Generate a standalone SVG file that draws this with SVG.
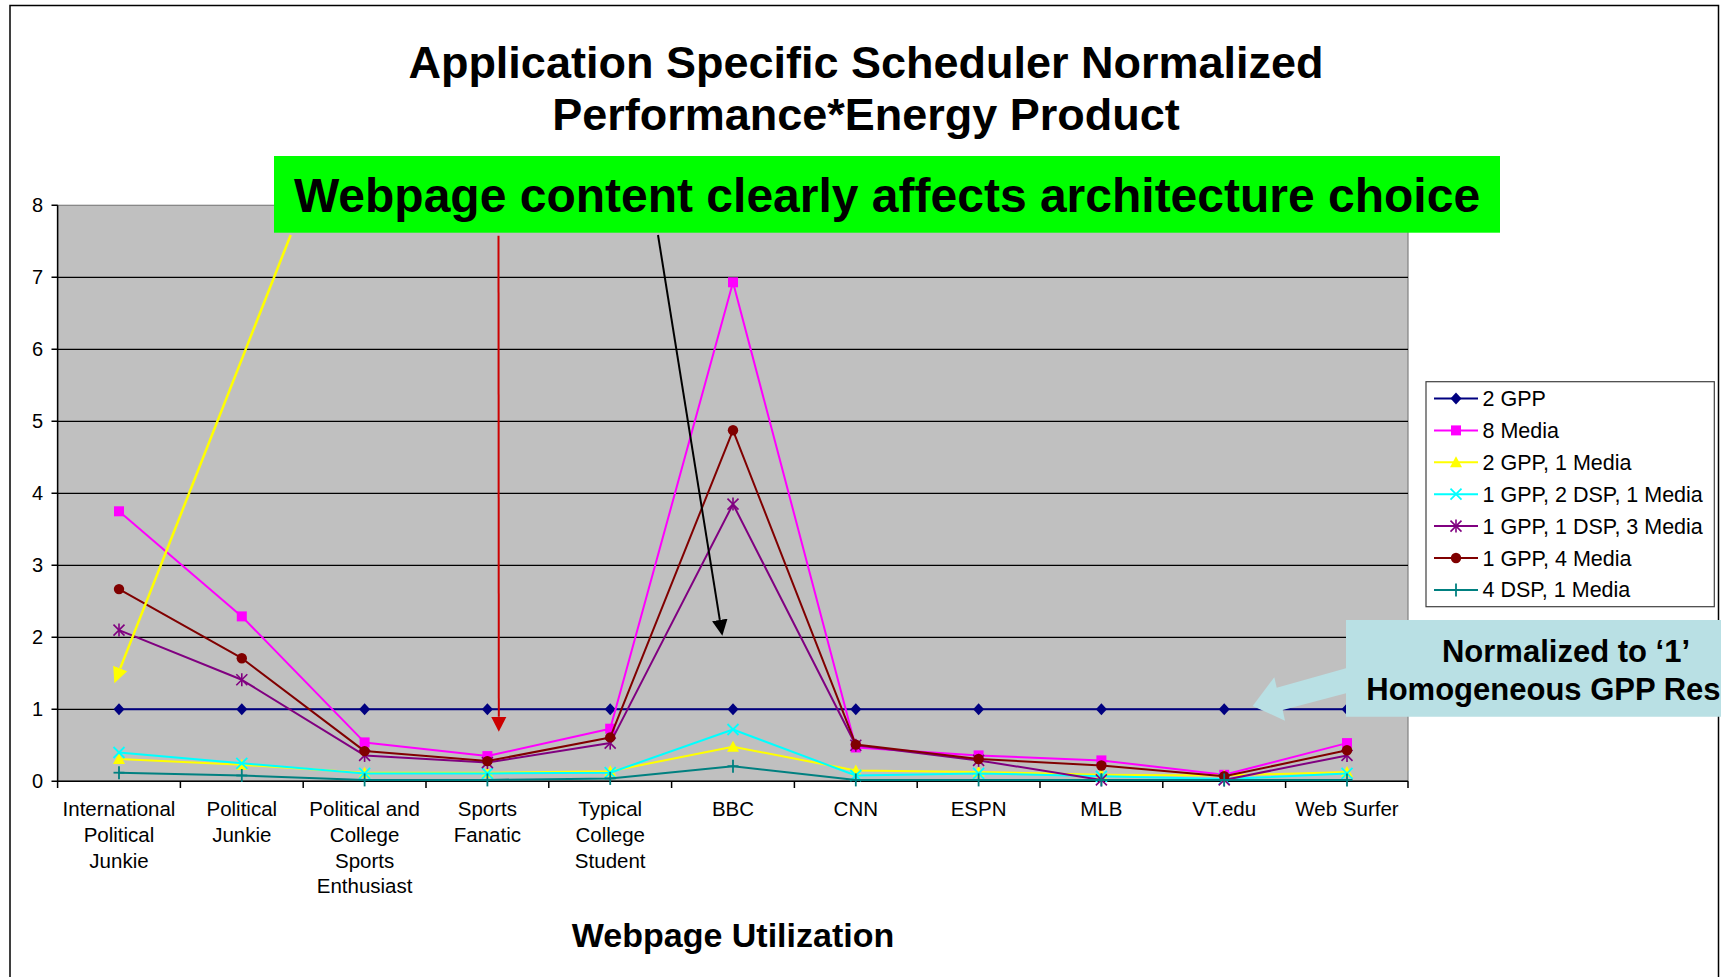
<svg xmlns="http://www.w3.org/2000/svg" xmlns:xlink="http://www.w3.org/1999/xlink" width="1721" height="977" viewBox="0 0 1721 977">
  <style>
    text { font-family: "Liberation Sans", Arial, sans-serif; fill: #000; }
    .title { font-size: 45px; font-weight: bold; text-anchor: middle; }
    .banner { font-size: 48px; font-weight: bold; text-anchor: middle; }
    .axis-title { font-size: 34px; font-weight: bold; text-anchor: middle; }
    .ylab { font-size: 20px; text-anchor: end; }
    .xlab { font-size: 20.5px; text-anchor: middle; }
    .leg { font-size: 21.5px; }
    .note { font-size: 31px; font-weight: bold; text-anchor: middle; }
    .grid { stroke: #000; stroke-width: 1.2; }
    .axis { stroke: #000; stroke-width: 1.5; fill: none; }
    .series { fill: none; stroke-width: 2; stroke-linejoin: round; }
    .s-gpp { stroke: #000080; }
    .s-media8 { stroke: #FF00FF; }
    .s-gpp2m1 { stroke: #FFFF00; }
    .s-g1d2m1 { stroke: #00FFFF; }
    .s-g1d1m3 { stroke: #800080; }
    .s-g1m4 { stroke: #800000; }
    .s-d4m1 { stroke: #008080; }
  </style>
  <defs>
    <!-- series point symbols, centred on the origin -->
    <g id="m-diamond"><polygon points="0,-6 5.5,0 0,6 -5.5,0" fill="#000080"/></g>
    <g id="m-square"><rect x="-5" y="-5" width="10" height="10" fill="#FF00FF"/></g>
    <g id="m-triangle"><polygon points="0,-6 6,5 -6,5" fill="#FFFF00"/></g>
    <g id="m-x" stroke="#00FFFF" stroke-width="1.8"><line x1="-5.5" y1="-5.5" x2="5.5" y2="5.5"/><line x1="-5.5" y1="5.5" x2="5.5" y2="-5.5"/></g>
    <g id="m-star" stroke="#800080" stroke-width="1.6"><line x1="-5.5" y1="-5.5" x2="5.5" y2="5.5"/><line x1="-5.5" y1="5.5" x2="5.5" y2="-5.5"/><line x1="0" y1="-6.5" x2="0" y2="6.5"/></g>
    <g id="m-circle"><circle r="5.2" fill="#800000"/></g>
    <g id="m-plus" stroke="#008080" stroke-width="1.8"><line x1="-5.5" y1="0" x2="5.5" y2="0"/><line x1="0" y1="-6.5" x2="0" y2="6.5"/></g>
    <!-- arrowheads; line ends at the head base -->
    <marker id="head-yellow" markerUnits="userSpaceOnUse" markerWidth="18" markerHeight="16" viewBox="0 -8 18 16" refX="0" refY="0" orient="auto">
      <path d="M0,-7.5 L16,0 L0,7.5 Z" fill="#FFFF00"/>
    </marker>
    <marker id="head-red" markerUnits="userSpaceOnUse" markerWidth="18" markerHeight="16" viewBox="0 -8 18 16" refX="0" refY="0" orient="auto">
      <path d="M0,-7.7 L15,0 L0,7.7 Z" fill="#CC0000"/>
    </marker>
    <marker id="head-black" markerUnits="userSpaceOnUse" markerWidth="18" markerHeight="16" viewBox="0 -8 18 16" refX="0" refY="0" orient="auto">
      <path d="M0,-7.8 L16,0 L0,7.8 Z" fill="#000"/>
    </marker>
  </defs>

  <!-- chart frame -->
  <rect x="0" y="0" width="1721" height="977" fill="#fff"/>
  <rect x="10" y="5.5" width="1708.5" height="990" fill="#fff" stroke="#000" stroke-width="1.5"/>

  <!-- title -->
  <g id="title">
    <text class="title" x="866" y="78">Application Specific Scheduler Normalized</text>
    <text class="title" x="866" y="130">Performance*Energy Product</text>
  </g>

  <!-- plot area -->
  <g id="plot">
    <rect x="57.6" y="205.3" width="1350.4" height="576" fill="#C0C0C0" stroke="#808080" stroke-width="1.2"/>
    <g class="grid">
      <line x1="57.6" y1="709.3" x2="1408" y2="709.3"/>
      <line x1="57.6" y1="637.3" x2="1408" y2="637.3"/>
      <line x1="57.6" y1="565.3" x2="1408" y2="565.3"/>
      <line x1="57.6" y1="493.3" x2="1408" y2="493.3"/>
      <line x1="57.6" y1="421.3" x2="1408" y2="421.3"/>
      <line x1="57.6" y1="349.3" x2="1408" y2="349.3"/>
      <line x1="57.6" y1="277.3" x2="1408" y2="277.3"/>
    </g>
    <!-- axes and ticks -->
    <path class="axis" d="M57.6,205.3 V781.3 H1408"/>
    <path class="axis" d="M51.5,781.3 H57.6 M51.5,709.3 H57.6 M51.5,637.3 H57.6 M51.5,565.3 H57.6 M51.5,493.3 H57.6 M51.5,421.3 H57.6 M51.5,349.3 H57.6 M51.5,277.3 H57.6 M51.5,205.3 H57.6"/>
    <path class="axis" d="M57.6,781.3 V788 M180.4,781.3 V788 M303.2,781.3 V788 M426,781.3 V788 M548.8,781.3 V788 M671.6,781.3 V788 M794.4,781.3 V788 M917.2,781.3 V788 M1040,781.3 V788 M1162.8,781.3 V788 M1285.6,781.3 V788 M1408,781.3 V788"/>
  </g>

  <!-- value axis labels -->
  <g id="y-labels">
    <text class="ylab" x="43" y="788.3">0</text>
    <text class="ylab" x="43" y="716.3">1</text>
    <text class="ylab" x="43" y="644.3">2</text>
    <text class="ylab" x="43" y="572.3">3</text>
    <text class="ylab" x="43" y="500.3">4</text>
    <text class="ylab" x="43" y="428.3">5</text>
    <text class="ylab" x="43" y="356.3">6</text>
    <text class="ylab" x="43" y="284.3">7</text>
    <text class="ylab" x="43" y="212.3">8</text>
  </g>

  <!-- category labels -->
  <g id="x-labels">
    <text class="xlab" y="816"><tspan x="119">International</tspan><tspan x="119" dy="25.8">Political</tspan><tspan x="119" dy="25.8">Junkie</tspan></text>
    <text class="xlab" y="816"><tspan x="241.8">Political</tspan><tspan x="241.8" dy="25.8">Junkie</tspan></text>
    <text class="xlab" y="816"><tspan x="364.6">Political and</tspan><tspan x="364.6" dy="25.8">College</tspan><tspan x="364.6" dy="25.8">Sports</tspan><tspan x="364.6" dy="25.8">Enthusiast</tspan></text>
    <text class="xlab" y="816"><tspan x="487.4">Sports</tspan><tspan x="487.4" dy="25.8">Fanatic</tspan></text>
    <text class="xlab" y="816"><tspan x="610.2">Typical</tspan><tspan x="610.2" dy="25.8">College</tspan><tspan x="610.2" dy="25.8">Student</tspan></text>
    <text class="xlab" x="733" y="816">BBC</text>
    <text class="xlab" x="855.8" y="816">CNN</text>
    <text class="xlab" x="978.6" y="816">ESPN</text>
    <text class="xlab" x="1101.4" y="816">MLB</text>
    <text class="xlab" x="1224.2" y="816">VT.edu</text>
    <text class="xlab" x="1347" y="816">Web Surfer</text>
  </g>

  <text id="axis-title" class="axis-title" x="733" y="947">Webpage Utilization</text>

  <!-- data series -->
  <g id="series-2gpp">
    <polyline class="series s-gpp" points="119,709.3 241.8,709.3 364.6,709.3 487.4,709.3 610.2,709.3 733,709.3 855.8,709.3 978.6,709.3 1101.4,709.3 1224.2,709.3 1347,709.3"/>
    <use href="#m-diamond" x="119" y="709.3"/><use href="#m-diamond" x="241.8" y="709.3"/><use href="#m-diamond" x="364.6" y="709.3"/><use href="#m-diamond" x="487.4" y="709.3"/><use href="#m-diamond" x="610.2" y="709.3"/><use href="#m-diamond" x="733" y="709.3"/><use href="#m-diamond" x="855.8" y="709.3"/><use href="#m-diamond" x="978.6" y="709.3"/><use href="#m-diamond" x="1101.4" y="709.3"/><use href="#m-diamond" x="1224.2" y="709.3"/><use href="#m-diamond" x="1347" y="709.3"/>
  </g>
  <g id="series-8media">
    <polyline class="series s-media8" points="119,511.3 241.8,616.4 364.6,742.4 487.4,756.1 610.2,728.7 733,282.3 855.8,747.5 978.6,755.4 1101.4,760.4 1224.2,774.8 1347,743.1"/>
    <use href="#m-square" x="119" y="511.3"/><use href="#m-square" x="241.8" y="616.4"/><use href="#m-square" x="364.6" y="742.4"/><use href="#m-square" x="487.4" y="756.1"/><use href="#m-square" x="610.2" y="728.7"/><use href="#m-square" x="733" y="282.3"/><use href="#m-square" x="855.8" y="747.5"/><use href="#m-square" x="978.6" y="755.4"/><use href="#m-square" x="1101.4" y="760.4"/><use href="#m-square" x="1224.2" y="774.8"/><use href="#m-square" x="1347" y="743.1"/>
  </g>
  <g id="series-2gpp-1media">
    <polyline class="series s-gpp2m1" points="119,759 241.8,764.7 364.6,772.7 487.4,772.7 610.2,771.2 733,746.7 855.8,770.5 978.6,771.9 1101.4,774.8 1224.2,775.5 1347,771.9"/>
    <use href="#m-triangle" x="119" y="759"/><use href="#m-triangle" x="241.8" y="764.7"/><use href="#m-triangle" x="364.6" y="772.7"/><use href="#m-triangle" x="487.4" y="772.7"/><use href="#m-triangle" x="610.2" y="771.2"/><use href="#m-triangle" x="733" y="746.7"/><use href="#m-triangle" x="855.8" y="770.5"/><use href="#m-triangle" x="978.6" y="771.9"/><use href="#m-triangle" x="1101.4" y="774.8"/><use href="#m-triangle" x="1224.2" y="775.5"/><use href="#m-triangle" x="1347" y="771.9"/>
  </g>
  <g id="series-1gpp-2dsp-1media">
    <polyline class="series s-g1d2m1" points="119,752.5 241.8,763.3 364.6,773.4 487.4,773.4 610.2,772.7 733,729.5 855.8,775.5 978.6,773.4 1101.4,776.3 1224.2,779.1 1347,773.4"/>
    <use href="#m-x" x="119" y="752.5"/><use href="#m-x" x="241.8" y="763.3"/><use href="#m-x" x="364.6" y="773.4"/><use href="#m-x" x="487.4" y="773.4"/><use href="#m-x" x="610.2" y="772.7"/><use href="#m-x" x="733" y="729.5"/><use href="#m-x" x="855.8" y="775.5"/><use href="#m-x" x="978.6" y="773.4"/><use href="#m-x" x="1101.4" y="776.3"/><use href="#m-x" x="1224.2" y="779.1"/><use href="#m-x" x="1347" y="773.4"/>
  </g>
  <g id="series-1gpp-1dsp-3media">
    <polyline class="series s-g1d1m3" points="119,630.1 241.8,679.8 364.6,755.4 487.4,762.6 610.2,743.1 733,504.1 855.8,745.3 978.6,760.4 1101.4,779.9 1224.2,779.9 1347,755.4"/>
    <use href="#m-star" x="119" y="630.1"/><use href="#m-star" x="241.8" y="679.8"/><use href="#m-star" x="364.6" y="755.4"/><use href="#m-star" x="487.4" y="762.6"/><use href="#m-star" x="610.2" y="743.1"/><use href="#m-star" x="733" y="504.1"/><use href="#m-star" x="855.8" y="745.3"/><use href="#m-star" x="978.6" y="760.4"/><use href="#m-star" x="1101.4" y="779.9"/><use href="#m-star" x="1224.2" y="779.9"/><use href="#m-star" x="1347" y="755.4"/>
  </g>
  <g id="series-1gpp-4media">
    <polyline class="series s-g1m4" points="119,589.1 241.8,658.2 364.6,751.1 487.4,761.1 610.2,737.4 733,430.3 855.8,744.6 978.6,759 1101.4,765.5 1224.2,776.3 1347,750.3"/>
    <use href="#m-circle" x="119" y="589.1"/><use href="#m-circle" x="241.8" y="658.2"/><use href="#m-circle" x="364.6" y="751.1"/><use href="#m-circle" x="487.4" y="761.1"/><use href="#m-circle" x="610.2" y="737.4"/><use href="#m-circle" x="733" y="430.3"/><use href="#m-circle" x="855.8" y="744.6"/><use href="#m-circle" x="978.6" y="759"/><use href="#m-circle" x="1101.4" y="765.5"/><use href="#m-circle" x="1224.2" y="776.3"/><use href="#m-circle" x="1347" y="750.3"/>
  </g>
  <g id="series-4dsp-1media">
    <polyline class="series s-d4m1" points="119,772.7 241.8,775.5 364.6,779.9 487.4,779.9 610.2,778.4 733,766.2 855.8,779.9 978.6,779.9 1101.4,779.9 1224.2,779.9 1347,779.9"/>
    <use href="#m-plus" x="119" y="772.7"/><use href="#m-plus" x="241.8" y="775.5"/><use href="#m-plus" x="364.6" y="779.9"/><use href="#m-plus" x="487.4" y="779.9"/><use href="#m-plus" x="610.2" y="778.4"/><use href="#m-plus" x="733" y="766.2"/><use href="#m-plus" x="855.8" y="779.9"/><use href="#m-plus" x="978.6" y="779.9"/><use href="#m-plus" x="1101.4" y="779.9"/><use href="#m-plus" x="1224.2" y="779.9"/><use href="#m-plus" x="1347" y="779.9"/>
  </g>

  <!-- legend -->
  <g id="legend">
    <rect x="1426" y="381.7" width="288.3" height="225" fill="#fff" stroke="#404040" stroke-width="1.2"/>
    <line class="series s-gpp" x1="1434" y1="398.5" x2="1478" y2="398.5"/><use href="#m-diamond" x="1456" y="398.5"/>
    <text class="leg" x="1482.5" y="406">2 GPP</text>
    <line class="series s-media8" x1="1434" y1="430.4" x2="1478" y2="430.4"/><use href="#m-square" x="1456" y="430.4"/>
    <text class="leg" x="1482.5" y="437.9">8 Media</text>
    <line class="series s-gpp2m1" x1="1434" y1="462.3" x2="1478" y2="462.3"/><use href="#m-triangle" x="1456" y="462.3"/>
    <text class="leg" x="1482.5" y="469.8">2 GPP, 1 Media</text>
    <line class="series s-g1d2m1" x1="1434" y1="494.2" x2="1478" y2="494.2"/><use href="#m-x" x="1456" y="494.2"/>
    <text class="leg" x="1482.5" y="501.7">1 GPP, 2 DSP, 1 Media</text>
    <line class="series s-g1d1m3" x1="1434" y1="526.1" x2="1478" y2="526.1"/><use href="#m-star" x="1456" y="526.1"/>
    <text class="leg" x="1482.5" y="533.6">1 GPP, 1 DSP, 3 Media</text>
    <line class="series s-g1m4" x1="1434" y1="558" x2="1478" y2="558"/><use href="#m-circle" x="1456" y="558"/>
    <text class="leg" x="1482.5" y="565.5">1 GPP, 4 Media</text>
    <line class="series s-d4m1" x1="1434" y1="589.9" x2="1478" y2="589.9"/><use href="#m-plus" x="1456" y="589.9"/>
    <text class="leg" x="1482.5" y="597.4">4 DSP, 1 Media</text>
  </g>

  <!-- banner -->
  <g id="banner">
    <rect x="274" y="156" width="1226" height="76.7" fill="#00FF00"/>
    <text class="banner" x="887" y="212">Webpage content clearly affects architecture choice</text>
  </g>

  <!-- pointer arrows from the banner -->
  <g id="connectors">
    <line x1="290.7" y1="235" x2="120.2" y2="668.4" stroke="#FFFF00" stroke-width="2.5" marker-end="url(#head-yellow)"/>
    <line x1="498.5" y1="235.7" x2="498.8" y2="716.7" stroke="#CC0000" stroke-width="2" marker-end="url(#head-red)"/>
    <line x1="658" y1="235" x2="719.8" y2="619.9" stroke="#000" stroke-width="2" marker-end="url(#head-black)"/>
  </g>

  <!-- baseline callout -->
  <g id="callout">
    <path d="M1346,620 H1721 V716.7 H1346 V693.3 L1282.7,710 L1285,720.7 L1252.7,706 L1274.3,677.3 L1276.7,687.7 L1346,668.3 Z" fill="#B9E0E4"/>
    <text class="note" x="1566" y="661.7">Normalized to ‘1’</text>
    <text class="note" x="1571" y="700">Homogeneous GPP Results</text>
  </g>
</svg>
